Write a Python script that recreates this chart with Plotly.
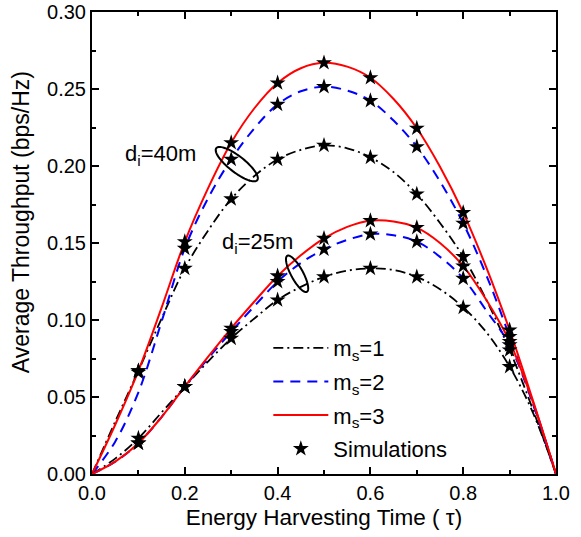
import numpy as np
import plotly.graph_objects as go

# Energy harvesting time grid for the analytical curves
tau = [0.00, 0.05, 0.10, 0.15, 0.20, 0.25, 0.30, 0.35, 0.40, 0.45, 0.50,
       0.55, 0.60, 0.65, 0.70, 0.75, 0.80, 0.85, 0.90, 0.95, 1.00]

# Analytical throughput, d_i = 40 m
thr40_m1 = [0, 0.034, 0.067, 0.101, 0.1335, 0.158, 0.1786, 0.1935, 0.2043, 0.2105, 0.2134,
            0.2115, 0.2056, 0.196, 0.1818, 0.163, 0.1411, 0.113, 0.0805, 0.042, 0]
thr40_m2 = [0, 0.021, 0.053, 0.099, 0.1465, 0.179, 0.2043, 0.2245, 0.240, 0.2485, 0.2515,
            0.249, 0.2424, 0.2295, 0.2125, 0.190, 0.1628, 0.129, 0.0892, 0.046, 0]
thr40_m3 = [0, 0.032, 0.067, 0.108, 0.1508, 0.1855, 0.2151, 0.2375, 0.2539, 0.2635, 0.267,
            0.2645, 0.2573, 0.2435, 0.2245, 0.1995, 0.1697, 0.134, 0.0935, 0.048, 0]

# Analytical throughput, d_i = 25 m
thr25_m1 = [0, 0.010, 0.0232, 0.040, 0.0567, 0.073, 0.0881, 0.101, 0.113, 0.1215, 0.128,
            0.132, 0.1335, 0.1325, 0.128, 0.120, 0.1082, 0.092, 0.0697, 0.040, 0]
thr25_m2 = [0, 0.008, 0.020, 0.037, 0.0567, 0.075, 0.0924, 0.109, 0.1249, 0.137, 0.1459,
            0.152, 0.1558, 0.155, 0.1509, 0.141, 0.127, 0.106, 0.0838, 0.046, 0]
thr25_m3 = [0, 0.008, 0.020, 0.037, 0.0567, 0.076, 0.0946, 0.112, 0.1286, 0.142, 0.153,
            0.1605, 0.1645, 0.164, 0.160, 0.150, 0.135, 0.113, 0.0860, 0.047, 0]

# Monte-Carlo simulation points
tau_sim = [0.1, 0.2, 0.3, 0.4, 0.5, 0.6, 0.7, 0.8, 0.9]
sim40_m1 = [0.067, 0.1335, 0.1786, 0.2043, 0.2134, 0.2056, 0.1818, 0.1411, 0.0805]
sim40_m2 = [0.066, 0.1465, 0.2043, 0.240, 0.2515, 0.2424, 0.2125, 0.1628, 0.0892]
sim40_m3 = [0.067, 0.1508, 0.2151, 0.2539, 0.267, 0.2573, 0.2245, 0.1697, 0.0935]
sim25_m1 = [0.0232, 0.0567, 0.0881, 0.113, 0.128, 0.1335, 0.128, 0.1082, 0.0697]
sim25_m2 = [0.020, 0.0567, 0.0924, 0.1249, 0.1459, 0.1558, 0.1509, 0.127, 0.0838]
sim25_m3 = [0.020, 0.0567, 0.0946, 0.1286, 0.153, 0.1645, 0.160, 0.135, 0.0860]

FONT = "Liberation Sans, Arial, sans-serif"
W, H = 581, 537
ML, MR, MT, MB = 92, 25, 12, 63
XR, YR = (0.0, 1.0), (0.0, 0.30)
PX_X = (W - ML - MR) / (XR[1] - XR[0])
PX_Y = (H - MT - MB) / (YR[1] - YR[0])

styles = {
    1: dict(color="black", width=1.8, dash="10px,4px,2px,4px"),
    2: dict(color="#0000FF", width=2, dash="10px,7px"),
    3: dict(color="#FF0000", width=2, dash="solid"),
}

fig = go.Figure()

curves = [
    (thr40_m1, 1, True), (thr40_m2, 2, True), (thr40_m3, 3, True),
    (thr25_m1, 1, False), (thr25_m2, 2, False), (thr25_m3, 3, False),
]
for ys, m, show in curves:
    fig.add_trace(go.Scatter(
        x=tau, y=ys, mode="lines", line=styles[m], line_shape="spline",
        name=f"m<sub>s</sub>={m}", legendgroup=f"m{m}", showlegend=show,
    ))

sims = [sim40_m1, sim40_m2, sim40_m3, sim25_m1, sim25_m2, sim25_m3]
for i, ys in enumerate(sims):
    fig.add_trace(go.Scatter(
        x=tau_sim, y=ys, mode="markers",
        marker=dict(symbol="star", size=12, color="black", line=dict(width=0)),
        name="Simulations", legendgroup="sim", showlegend=(i == 0),
    ))


def ellipse_path(cx, cy, a_px, b_px, ang_deg, n=80):
    """Rotated ellipse outline in data coordinates; sizes given in pixels."""
    t = np.linspace(0, 2 * np.pi, n)
    th = np.deg2rad(ang_deg)
    dx = a_px * np.cos(t) * np.cos(th) - b_px * np.sin(t) * np.sin(th)
    dy = a_px * np.cos(t) * np.sin(th) + b_px * np.sin(t) * np.cos(th)
    xs = cx + dx / PX_X
    ys = cy - dy / PX_Y
    pts = [f"{x:.5f},{y:.5f}" for x, y in zip(xs, ys)]
    return "M" + " L".join(pts) + " Z"


fig.add_shape(type="path", xref="x", yref="y",
              path=ellipse_path(0.312, 0.2012, 26, 8, 38),
              line=dict(color="black", width=2))
fig.add_shape(type="path", xref="x", yref="y",
              path=ellipse_path(0.442, 0.130, 20.5, 6, 61.5),
              line=dict(color="black", width=2))

fig.add_annotation(x=0.148, y=0.207, text="d<sub>i</sub>=40m", showarrow=False,
                   font=dict(size=22, color="black", family=FONT))
fig.add_annotation(x=0.356, y=0.150, text="d<sub>i</sub>=25m", showarrow=False,
                   font=dict(size=22, color="black", family=FONT))

# y-axis title placed as a rotated paper annotation
fig.add_annotation(x=-0.153, y=0.545, xref="paper", yref="paper",
                   text="Average Throughput (bps/Hz)", textangle=-90, showarrow=False,
                   xanchor="center", yanchor="middle",
                   font=dict(size=23, color="black", family=FONT))

axis_common = dict(
    showline=True, linecolor="black", linewidth=2, mirror="ticks",
    ticks="inside", ticklen=7, tickwidth=2, tickcolor="black",
    showgrid=False, zeroline=False,
    tickfont=dict(size=20, color="black", family=FONT),
)

fig.update_xaxes(
    range=list(XR), dtick=0.2, tick0=0, tickformat=".1f",
    minor=dict(ticks="inside", ticklen=4, tickwidth=2, tickcolor="black", dtick=0.1),
    title=dict(text="Energy Harvesting Time ( τ)", font=dict(size=22.5, color="black", family=FONT),
               standoff=6),
    **axis_common,
)
fig.update_yaxes(
    range=list(YR), dtick=0.05, tick0=0, tickformat=".2f",
    minor=dict(ticks="inside", ticklen=4, tickwidth=2, tickcolor="black", dtick=0.025),
    **axis_common,
)

fig.update_layout(
    width=W, height=H,
    margin=dict(l=ML, r=MR, t=MT, b=MB, autoexpand=False),
    plot_bgcolor="white", paper_bgcolor="white",
    font=dict(family=FONT, color="black"),
    legend=dict(
        x=0.38, y=0.318, xanchor="left", yanchor="top",
        bgcolor="rgba(0,0,0,0)", borderwidth=0,
        font=dict(size=22, color="black", family=FONT),
        itemwidth=55, traceorder="grouped", tracegroupgap=2,
    ),
)

fig.write_html("out.html")
